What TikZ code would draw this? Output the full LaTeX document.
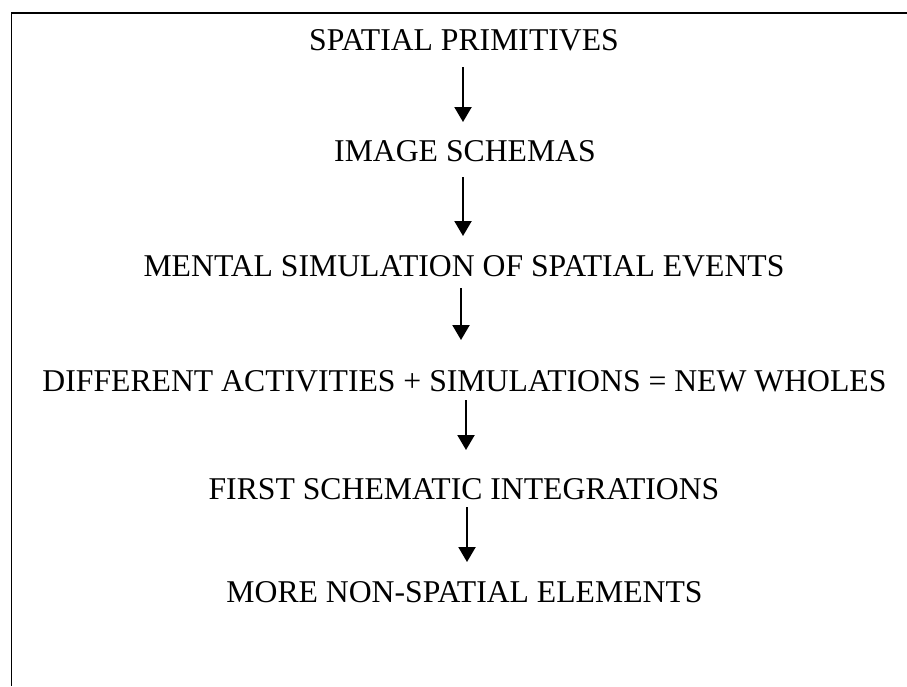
\documentclass[tikz,border=0pt]{standalone}
\usepackage{fontspec}
\setmainfont{Liberation Serif}
\usetikzlibrary{arrows.meta}
\begin{document}
\begin{tikzpicture}[x=1pt,y=-1pt,
  lbl/.style={font=\fontsize{31.7}{36}\selectfont, inner sep=0pt, anchor=center},
  flow/.style={line width=2.2pt, -{Triangle[width=17pt,length=15pt]}},
  frame/.style={line width=1.2pt}]
\useasboundingbox (0,0) rectangle (907,686);
\coordinate (tl) at (11.5,13);
\coordinate (tr) at (907,13);
\coordinate (bl) at (11.5,686);
\draw[frame] (tr) -- (tl) -- (bl);
\node[lbl] (n1) at (464,40) {SPATIAL PRIMITIVES};
\node[lbl] (n2) at (465,151) {IMAGE SCHEMAS};
\node[lbl] (n3) at (464,266) {MENTAL SIMULATION OF SPATIAL EVENTS};
\node[lbl] (n4) at (464.5,381) {DIFFERENT ACTIVITIES + SIMULATIONS = NEW WHOLES};
\node[lbl] (n5) at (464,489) {FIRST SCHEMATIC INTEGRATIONS};
\node[lbl] (n6) at (464.5,592) {MORE NON-SPATIAL ELEMENTS};
\coordinate (a1s) at (463,67); \coordinate (a1e) at (463,122);
\coordinate (a2s) at (463,177); \coordinate (a2e) at (463,236);
\coordinate (a3s) at (461,288); \coordinate (a3e) at (461,340);
\coordinate (a4s) at (466,400); \coordinate (a4e) at (466,450);
\coordinate (a5s) at (467,507); \coordinate (a5e) at (467,562);
\draw[flow] (a1s) -- (a1e);
\draw[flow] (a2s) -- (a2e);
\draw[flow] (a3s) -- (a3e);
\draw[flow] (a4s) -- (a4e);
\draw[flow] (a5s) -- (a5e);
\end{tikzpicture}
\end{document}
